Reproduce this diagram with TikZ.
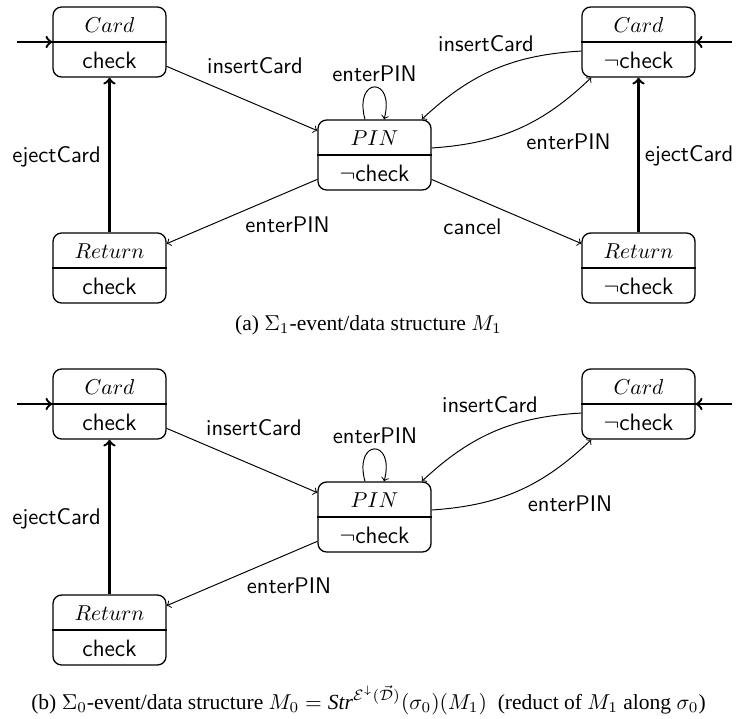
\documentclass[tikz,border=0pt]{standalone}
\usepackage{fontspec}
\setmainfont{Liberation Serif}
\usetikzlibrary{calc}
\newcommand{\mkstate}[4]{%
  \node[stbox] (#1) at (#2) {};
  \draw[sline] (#1.west) -- (#1.east);
  \node[ttl] (#1t) at ([yshift=7.9pt]#1.center) {$#3$};
  \node[subtxt] (#1b) at ([yshift=-8.4pt]#1.center) {#4};
}
\begin{document}
\begin{tikzpicture}[x=0.4645pt,y=-0.4645pt,
  stbox/.style={draw,rounded corners=4pt,minimum width=52.5pt,minimum height=32.5pt,line width=0.6pt,inner sep=0pt},
  sline/.style={line width=0.6pt},
  ttl/.style={inner sep=0pt},
  subtxt/.style={inner sep=0pt,font=\fontsize{11}{13}\selectfont\sffamily},
  elabel/.style={inner sep=0pt,font=\fontsize{10.5}{12}\selectfont\sffamily,anchor=base},
  thinedge/.style={->,line width=0.45pt},
  boldedge/.style={->,line width=1.1pt},
  captxt/.style={inner sep=0pt}
]
\useasboundingbox (0,0) rectangle (737,718);

% ---------- top diagram ----------
\mkstate{ca}{109.5,42}{Card}{check}
\mkstate{cb}{638.5,42}{Card}{$\neg$check}
\mkstate{pa}{374.5,155}{PIN}{$\neg$check}
\mkstate{ra}{109.5,268}{Return}{check}
\mkstate{rb}{638.5,268}{Return}{$\neg$check}

\coordinate (ia) at (17,42);
\coordinate (ib) at (732,42);
\draw[boldedge] (ia) -- (ca);
\draw[boldedge] (ib) -- (cb);
\draw[thinedge] (ca) -- (pa);
\draw[thinedge] (pa) to[loop above, looseness=6] (pa);
\draw[thinedge] (cb.189) to[bend right=20] (pa.37.6);
\draw[thinedge] (pa.7.9) to[bend right=20] (cb.217.6);
\draw[thinedge] (pa) -- (ra);
\draw[thinedge] (pa) -- (rb);
\draw[boldedge] (ra) -- (ca);
\draw[boldedge] (rb) -- (cb);

\node[elabel] (la1) at (255,73.5) {insertCard};
\node[elabel] (la2) at (374.5,81.5) {enterPIN};
\node[elabel] (la3) at (486,51.5) {insertCard};
\node[elabel] (la4) at (568.5,149.5) {enterPIN};
\node[elabel] (la5) at (689,161.5) {ejectCard};
\node[elabel] (la6) at (472.5,234.5) {cancel};
\node[elabel] (la7) at (56.5,162.5) {ejectCard};
\node[elabel] (la8) at (287.5,232.5) {enterPIN};

\node[captxt] (capa) at (368.5,325) {(a) $\Sigma_1$-event/data structure $M_1$};

% ---------- bottom diagram ----------
\mkstate{cc}{109.5,404}{Card}{check}
\mkstate{cd}{638.5,404}{Card}{$\neg$check}
\mkstate{pb}{374.5,517}{PIN}{$\neg$check}
\mkstate{rc}{109.5,630}{Return}{check}

\coordinate (ic) at (17,404);
\coordinate (id) at (732,404);
\draw[boldedge] (ic) -- (cc);
\draw[boldedge] (id) -- (cd);
\draw[thinedge] (cc) -- (pb);
\draw[thinedge] (pb) to[loop above, looseness=6] (pb);
\draw[thinedge] (cd.189) to[bend right=20] (pb.37.6);
\draw[thinedge] (pb.7.9) to[bend right=20] (cd.217.6);
\draw[thinedge] (pb) -- (rc);
\draw[boldedge] (rc) -- (cc);

\node[elabel] (lb1) at (254,435) {insertCard};
\node[elabel] (lb2) at (375,443) {enterPIN};
\node[elabel] (lb3) at (490,412) {insertCard};
\node[elabel] (lb4) at (570,511.5) {enterPIN};
\node[elabel] (lb7) at (56.5,524.5) {ejectCard};
\node[elabel] (lb8) at (289,593) {enterPIN};

\node[captxt] (capb) at (368.5,700) {(b) $\Sigma_0$-event/data structure $M_0 = \mathit{Str}^{\mathcal{E}^{\downarrow}(\vec{\mathcal{D}})}(\sigma_0)(M_1)$ \ (reduct of $M_1$ along $\sigma_0$)};
\end{tikzpicture}
\end{document}
